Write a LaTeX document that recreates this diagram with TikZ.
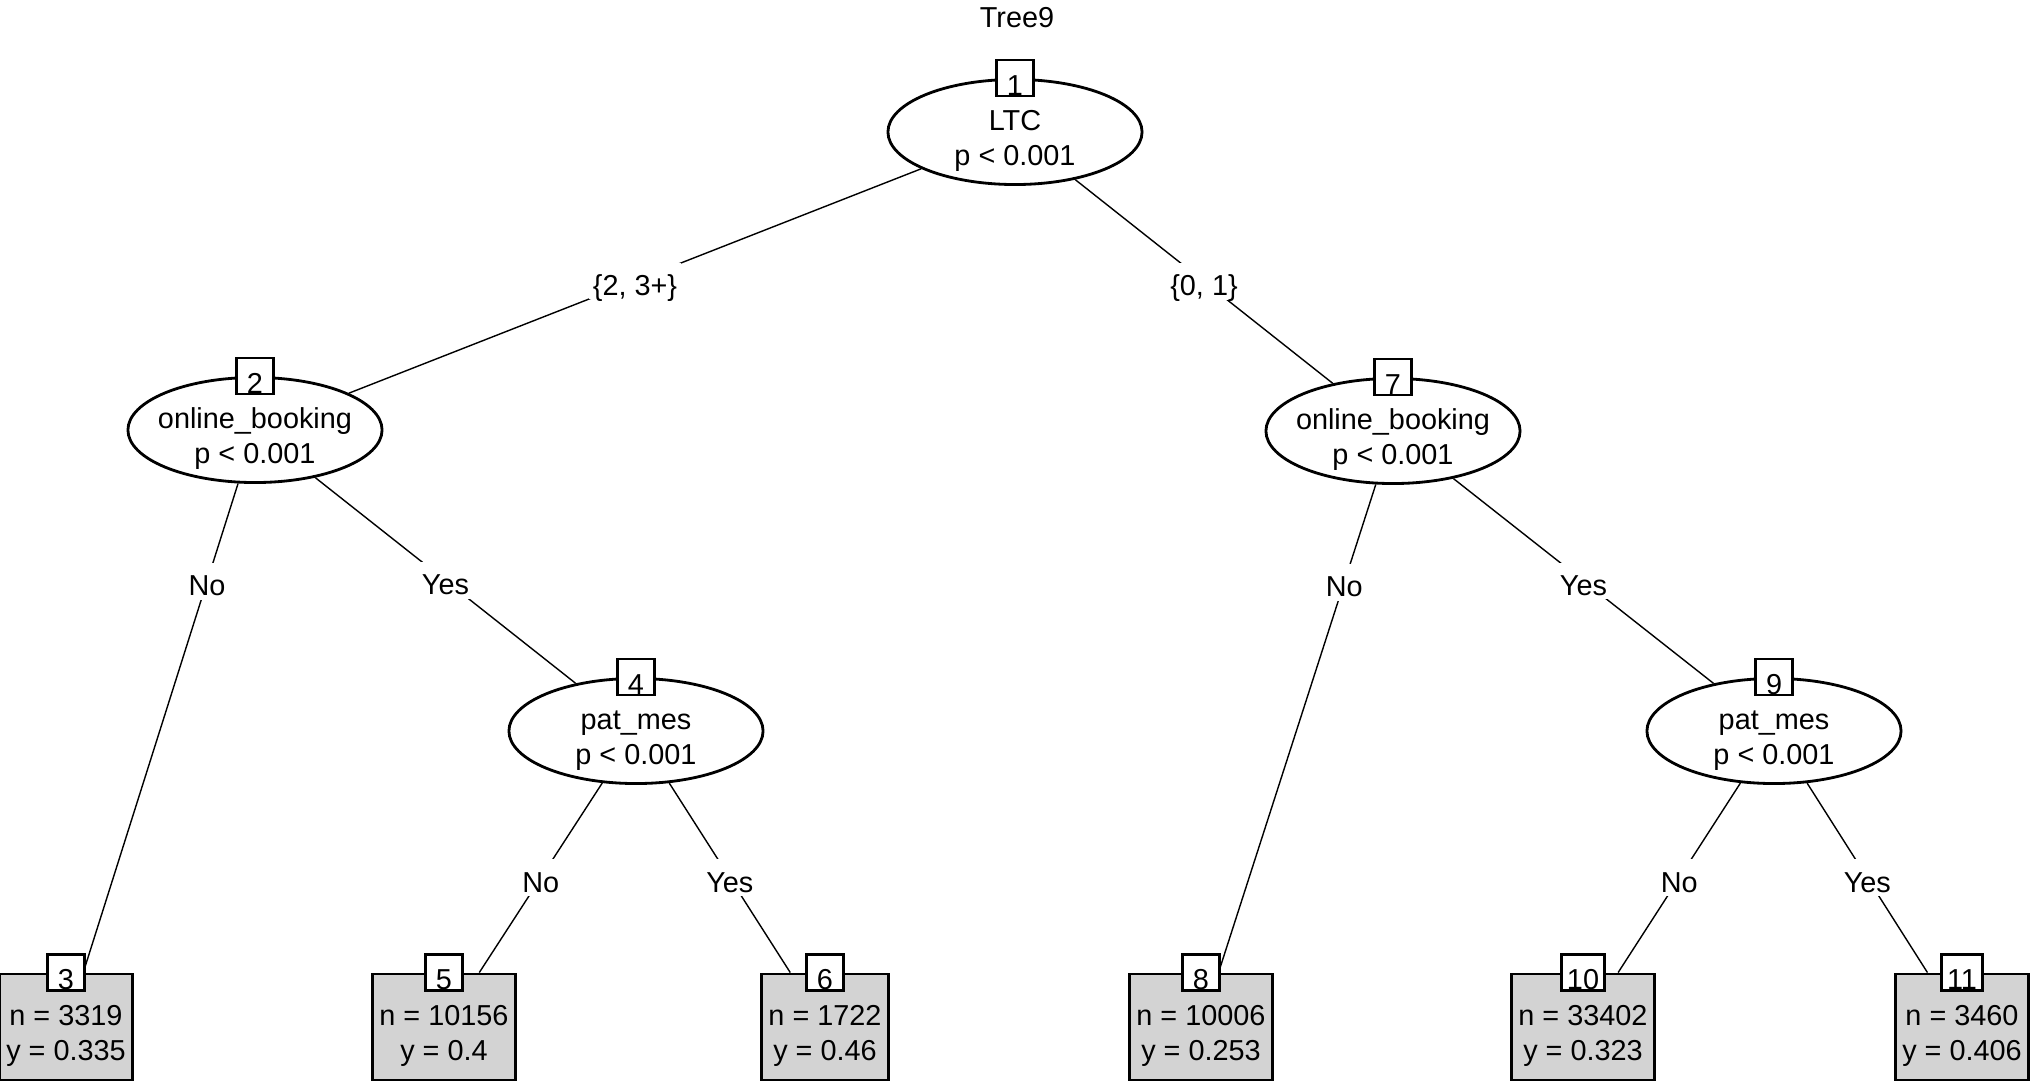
\documentclass[tikz,border=0pt]{standalone}
\usepackage{fontspec}
\setmainfont{Liberation Sans}
\usetikzlibrary{shapes.geometric,backgrounds}
\definecolor{leafgray}{RGB}{211,211,211}

\begin{document}
\begin{tikzpicture}[x=0.01cm,y=-0.01cm,line width=0.8pt,
    font=\fontsize{8.2}{10}\selectfont,
    split/.style={ellipse,draw,fill=white,minimum width=2.54cm,minimum height=1.05cm,inner sep=0pt},
    splittext/.style={align=center,inner sep=0pt,text height=20.3pt,text depth=1pt},
    leaf/.style={rectangle,draw,fill=leafgray,align=center,minimum height=1.06cm,inner xsep=0.07cm,inner ysep=0pt,text height=20pt,text depth=1pt},
    tag/.style={rectangle,draw,fill=white,inner xsep=1.5pt,inner ysep=0pt,minimum width=0.37cm,minimum height=0.36cm,text height=10pt,text depth=0.2pt},
    edgelab/.style={fill=white,inner xsep=1pt,inner ysep=0pt,text height=9.3pt,text depth=1.2pt}]
    \useasboundingbox (0,0) rectangle (2036,1082);
    \node (title) at (1017,18) {Tree9};
    % inner nodes
    \node[split,label={[splittext]center:LTC\\p < 0.001}] (n1) at (1015,132) {};
    \node[split,label={[splittext]center:online\_booking\\p < 0.001}] (n2) at (255,430) {};
    \node[split,label={[splittext]center:pat\_mes\\p < 0.001}] (n4) at (636,731) {};
    \node[split,label={[splittext]center:online\_booking\\p < 0.001}] (n7) at (1393,431) {};
    \node[split,label={[splittext]center:pat\_mes\\p < 0.001}] (n9) at (1774,731) {};
    % terminal nodes
    \node[leaf] (l3) at (66,1027) {n = 3319\\y = 0.335};
    \node[leaf] (l5) at (444,1027) {n = 10156\\y = 0.4};
    \node[leaf] (l6) at (825,1027) {n = 1722\\y = 0.46};
    \node[leaf] (l8) at (1201,1027) {n = 10006\\y = 0.253};
    \node[leaf] (l10) at (1583,1027) {n = 33402\\y = 0.323};
    \node[leaf] (l11) at (1962,1027) {n = 3460\\y = 0.406};
    \foreach \k in {1,2,4,7,9}
    \node[tag] (t\k) at (n\k.north) {\k};
    \foreach \k in {3,5,6,8,10,11}
    \node[tag] (t\k) at (l\k.north) {\k};
    % edges
    \begin{scope}[on background layer]
    \draw (n1) -- node[edgelab] {\{2, 3+\}} (n2);
    \draw (n1) -- node[edgelab] {\{0, 1\}} (n7);
    \draw (n2) -- node[edgelab,pos=.2] {No} (l3);
    \draw (n2) -- node[edgelab] {Yes} (n4);
    \draw (n4) -- node[edgelab] {No} (l5);
    \draw (n4) -- node[edgelab] {Yes} (l6);
    \draw (n7) -- node[edgelab,pos=.2] {No} (l8);
    \draw (n7) -- node[edgelab] {Yes} (n9);
    \draw (n9) -- node[edgelab] {No} (l10);
    \draw (n9) -- node[edgelab] {Yes} (l11);
    \end{scope}
\end{tikzpicture}
\end{document}
